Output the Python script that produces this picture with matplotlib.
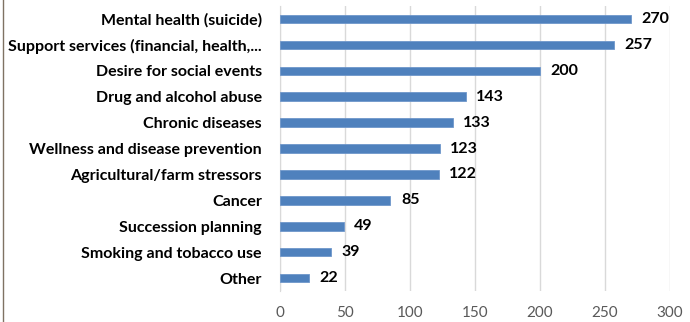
import matplotlib.pyplot as plt

# 数据（从上到下）
labels = ['Mental health (suicide)', 'Support services (financial, health,...',
          'Desire for social events', 'Drug and alcohol abuse', 'Chronic diseases',
          'Wellness and disease prevention', 'Agricultural/farm stressors', 'Cancer',
          'Succession planning', 'Smoking and tobacco use', 'Other']
counts = [270, 257, 200, 143, 133, 123, 122, 85, 49, 39, 22]
xticks = [0, 50, 100, 150, 200, 250, 300]

plt.rcParams['font.family'] = ['Lato', 'DejaVu Sans']

fig = plt.figure(figsize=(6.9, 3.22), dpi=100)
ax = fig.add_axes([0.4058, 0.0963, 0.5652, 0.885])

y = list(range(len(labels)))
ax.barh(y, counts, height=0.33, color='#4F81BD', edgecolor='#6F97CB', linewidth=0.6, zorder=3)
for yi, v in zip(y, counts):
    ax.text(v + 8, yi, str(v), va='center', ha='left', fontsize=11.5, fontweight='bold', color='black')

ax.set_yticks(y)
ax.set_yticklabels(labels, fontsize=11.5, fontweight='bold')
ax.invert_yaxis()
ax.set_ylim(len(labels) - 0.5, -0.5)
ax.set_xlim(0, 300)
ax.set_xticks(xticks)
ax.set_xticklabels([str(t) for t in xticks], fontsize=11, color='#595959')
ax.tick_params(axis='both', length=0)
ax.tick_params(axis='y', pad=13)
ax.tick_params(axis='x', pad=11)
ax.xaxis.grid(True, color='#D9D9D9', linewidth=1, zorder=0)
for s in ['top', 'right', 'bottom']:
    ax.spines[s].set_visible(False)
ax.spines['left'].set_color('#D9D9D9')

# 左侧边框线
fig.add_artist(plt.Line2D([3.5 / 690, 3.5 / 690], [0, 1], color='#7F7263', linewidth=1))

plt.savefig('out.png', dpi=100)
